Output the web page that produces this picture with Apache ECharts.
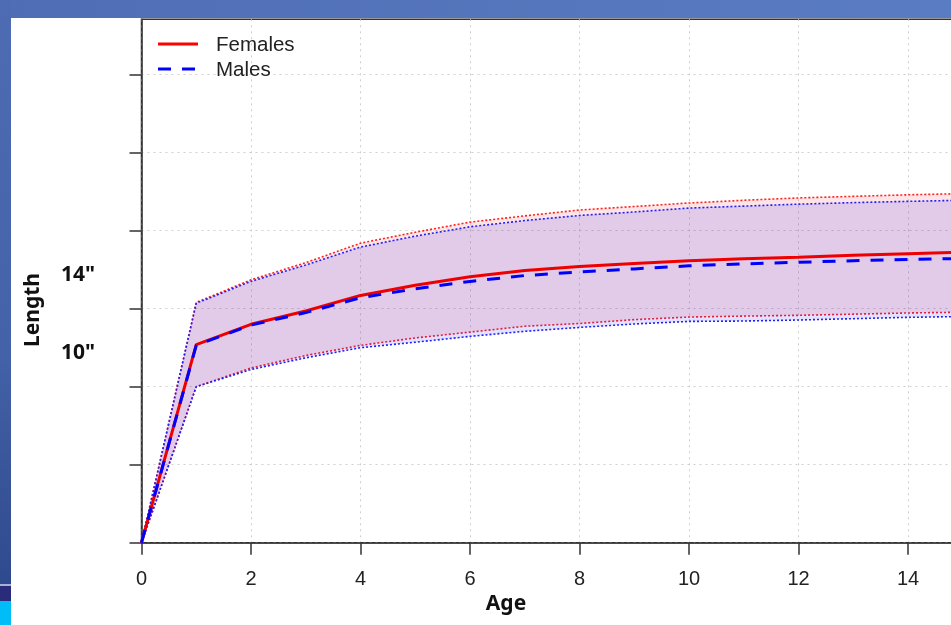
<!DOCTYPE html>
<html><head><meta charset="utf-8">
<script src="https://cdn.jsdelivr.net/npm/echarts@6/dist/echarts.min.js"></script>
<style>html,body{margin:0;padding:0;background:#fff;}#c{width:951px;height:625px;}</style>
</head><body><div id="c"></div>
<script>
const axisAges = ['0','1','2','3','4','5','6','7','8','9','10','11','12','13','14','15','16'];
const femaleMean  = [0,254,280,297,317,330,341,349,354,358,361.5,364,366,368.5,370.5,372.5];
const maleMean    = [0,253,279,295,314,325.5,335,342.5,347,351,355,357.5,359.5,361.5,363,364.5];
const femaleUpper = [0,308,337,359,384,398,411,419,426.5,431,435.5,439,442,444,446,447.5];
const maleUpper   = [0,307,335,356,379,393,405,413,419.5,424,429,431.5,434,436,437.6,439];
const femaleLower = [0,200,224,240,253,262.5,270,277.5,281,286,289.3,290.5,291.5,293,294.5,295.5];
const maleLower   = [0,200,222,237,250,257,264.5,271,276,280.4,283.7,284.2,285.5,287.2,288.9,290];
const yTicks = [0,100,200,300,400,500,600];
const yNotes = ['14"', '10"'];
const seriesNames = ['Females', 'Males'];

const diff = (u, l) => u.map((v, i) => v - l[i]);

const FONT = "'Liberation Sans', Arial, sans-serif";
const BOLD = "'Noto Sans', sans-serif";
const chart = echarts.init(document.getElementById('c'), null, {renderer: 'canvas'});

const dotted = (color) => ({color: color, width: 1.6, type: [2, 2]});

const option = {
  backgroundColor: 'transparent',
  animation: false,
  grid: {left: 141.5, top: 19.3, width: 876, height: 523.4, show: true, containLabel: false,
         outerBoundsMode: 'none',
         backgroundColor: '#fff', borderColor: '#333', borderWidth: 1.5},
  xAxis: {
    type: 'category', data: axisAges, boundaryGap: false,
    axisLine: {show: true, onZero: false, lineStyle: {color: '#333', width: 1.5}},
    axisTick: {show: true, inside: false, length: 12, interval: 1, lineStyle: {color: '#333', width: 1.5}},
    axisLabel: {show: true, interval: 1, margin: 27, fontSize: 20, fontFamily: FONT, color: '#222'},
    splitLine: {show: true, interval: 1, lineStyle: {color: '#cfcfcf', width: 1, type: [2, 4]}}
  },
  yAxis: {
    type: 'value', min: 0, max: 671, interval: 100,
    axisLine: {show: true, onZero: false, lineStyle: {color: '#333', width: 1.5}},
    axisTick: {show: true, inside: false, length: 12, customValues: yTicks, lineStyle: {color: '#333', width: 1.5}},
    axisLabel: {show: false},
    splitLine: {show: true, lineStyle: {color: '#cfcfcf', width: 1, type: [2, 4]}}
  },
  series: [
    {name: 'fLow', type: 'line', stack: 'F', data: femaleLower, symbol: 'none',
     lineStyle: dotted('#ff2020'), z: 3},
    {name: 'fBand', type: 'line', stack: 'F', data: diff(femaleUpper, femaleLower), symbol: 'none',
     lineStyle: dotted('#ff2020'), areaStyle: {color: 'rgba(255,0,0,0.10)', opacity: 1}, z: 3},
    {name: 'mLow', type: 'line', stack: 'M', data: maleLower, symbol: 'none',
     lineStyle: dotted('#2020ff'), z: 4},
    {name: 'mBand', type: 'line', stack: 'M', data: diff(maleUpper, maleLower), symbol: 'none',
     lineStyle: dotted('#2020ff'), areaStyle: {color: 'rgba(0,0,255,0.115)', opacity: 1}, z: 4},
    {name: seriesNames[0], type: 'line', data: femaleMean, symbol: 'none',
     itemStyle: {color: '#ee0000'},
     lineStyle: {color: '#ee0000', width: 3, type: 'solid'}, z: 6},
    {name: seriesNames[1], type: 'line', data: maleMean, symbol: 'none',
     itemStyle: {color: '#0000ff'},
     lineStyle: {color: '#0000ff', width: 3, type: [13, 11]}, z: 7}
  ],
  graphic: [
    {type: 'rect', shape: {x: 0, y: 0, width: 951, height: 18}, silent: true, z: 100,
     style: {fill: new echarts.graphic.LinearGradient(0, 0, 1, 0, [{offset: 0, color: '#4f6db4'}, {offset: 1, color: '#5a7cc2'}])}},
    {type: 'rect', shape: {x: 0, y: 0, width: 11, height: 585}, silent: true, z: 100,
     style: {fill: new echarts.graphic.LinearGradient(0, 0, 0, 1, [{offset: 0, color: '#4e6cb3'}, {offset: 0.6, color: '#4462a8'}, {offset: 1, color: '#2f4a8c'}])}},
    {type: 'rect', shape: {x: 0, y: 585, width: 11, height: 16}, silent: true, z: 100, style: {fill: '#2b2b7c'}},
    {type: 'rect', shape: {x: 0, y: 584, width: 11, height: 2}, silent: true, z: 101, style: {fill: '#a8b0d8'}},
    {type: 'rect', shape: {x: 0, y: 601, width: 11, height: 24}, silent: true, z: 100, style: {fill: '#00bdf8'}},
    // legend
    {type: 'line', shape: {x1: 158, y1: 44, x2: 198, y2: 44}, silent: true, z: 100,
     style: {stroke: '#ff0000', lineWidth: 3}},
    {type: 'line', shape: {x1: 158, y1: 69, x2: 198, y2: 69}, silent: true, z: 100,
     style: {stroke: '#0000ff', lineWidth: 3, lineDash: [13, 11]}},
    {type: 'text', x: 216, y: 45, silent: true, z: 100,
     style: {text: seriesNames[0], fontSize: 20.5, fontFamily: FONT, fill: '#222', align: 'left', verticalAlign: 'middle'}},
    {type: 'text', x: 216, y: 70, silent: true, z: 100,
     style: {text: seriesNames[1], fontSize: 20.5, fontFamily: FONT, fill: '#222', align: 'left', verticalAlign: 'middle'}},
    {type: 'text', x: 33, y: 310, rotation: Math.PI / 2, silent: true, z: 100,
     style: {text: 'Length', fontSize: 21, fontWeight: 'bold', fontFamily: BOLD, fill: '#111', align: 'center', verticalAlign: 'middle'}},
    {type: 'text', x: 78, y: 275, silent: true, z: 100,
     style: {text: yNotes[0], fontSize: 21, fontWeight: 'bold', fontFamily: BOLD, fill: '#111', align: 'center', verticalAlign: 'middle'}},
    {type: 'text', x: 78, y: 353, silent: true, z: 100,
     style: {text: yNotes[1], fontSize: 21, fontWeight: 'bold', fontFamily: BOLD, fill: '#111', align: 'center', verticalAlign: 'middle'}},
    {type: 'text', x: 506, y: 604, silent: true, z: 100,
     style: {text: 'Age', fontSize: 21, fontWeight: 'bold', fontFamily: BOLD, fill: '#111', align: 'center', verticalAlign: 'middle'}}
  ]
};
chart.setOption(option);
</script>
</body></html>
